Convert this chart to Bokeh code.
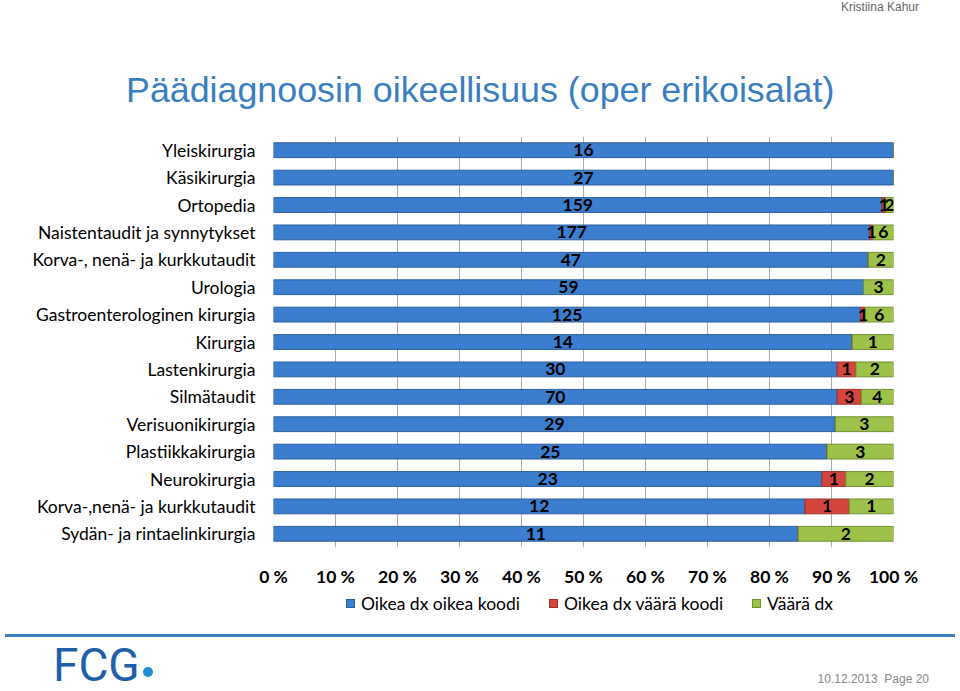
from bokeh.plotting import figure
from bokeh.layouts import column
from bokeh.models import (ColumnDataSource, FactorRange, Range1d, Div,
                          FixedTicker, CustomJSTickFormatter)
from bokeh.core.properties import value
from bokeh.embed import file_html
from bokeh.resources import INLINE

categories = ["Yleiskirurgia", "Käsikirurgia", "Ortopedia", "Naistentaudit ja synnytykset",
              "Korva-, nenä- ja kurkkutaudit", "Urologia", "Gastroenterologinen kirurgia",
              "Kirurgia", "Lastenkirurgia", "Silmätaudit", "Verisuonikirurgia",
              "Plastiikkakirurgia", "Neurokirurgia", "Korva-,nenä- ja kurkkutaudit",
              "Sydän- ja rintaelinkirurgia"]
oikea_oikea = [16, 27, 159, 177, 47, 59, 125, 14, 30, 70, 29, 25, 23, 12, 11]
oikea_vaara = [0, 0, 1, 1, 0, 0, 1, 0, 1, 3, 0, 0, 1, 1, 0]
vaara_dx = [0, 0, 2, 6, 2, 3, 6, 1, 2, 4, 3, 3, 2, 1, 2]
series_names = ["Oikea dx oikea koodi", "Oikea dx väärä koodi", "Väärä dx"]
x_ticks = [0, 10, 20, 30, 40, 50, 60, 70, 80, 90, 100]
title_text = "Päädiagnoosin oikeellisuus (oper erikoisalat)"

colors = ["#3B7DCE", "#D4463E", "#9CC24A"]
outlines = ["#2B5E9C", "#9E2E28", "#6F8F2E"]
FONT = "Lato"
FS = "17.5px"

W = 960
HEAD_H, FIG_H, FOOT_H = 128, 464, 99

# ---------- header (author + title) ----------
header_html = f"""
<div style="position:relative;width:{W}px;height:{HEAD_H}px;margin:0;padding:0;">
  <div style="position:absolute;right:41px;top:0px;font-family:'Liberation Sans';font-size:12px;line-height:14px;color:#666666;">Kristiina Kahur</div>
  <div style="position:absolute;left:126px;top:70px;font-family:'Liberation Sans';font-size:35.8px;line-height:40px;color:#3A7EC0;white-space:nowrap;">{title_text}</div>
</div>
"""
header = Div(text=header_html, width=W, height=HEAD_H, margin=0)

# ---------- chart ----------
p = figure(width=W, height=FIG_H, y_range=FactorRange(*list(reversed(categories))),
           x_range=Range1d(0, 100), output_backend="svg", toolbar_location=None,
           min_border_left=273, min_border_right=67, min_border_top=8,
           min_border_bottom=45)
p.outline_line_color = None

totals = [a + b + c for a, b, c in zip(oikea_oikea, oikea_vaara, vaara_dx)]
series = [oikea_oikea, oikea_vaara, vaara_dx]
left = [0.0] * len(categories)
label_x, label_y, label_t = [], [], []
for s, vals in enumerate(series):
    pct = [100.0 * v / t for v, t in zip(vals, totals)]
    right = [l + q for l, q in zip(left, pct)]
    src = ColumnDataSource(dict(y=categories, left=left, right=right))
    p.hbar(y="y", left="left", right="right", height=0.54, source=src,
           fill_color=colors[s], line_color=outlines[s], line_width=1)
    for c, l, rr, v in zip(categories, left, right, vals):
        if v > 0:
            label_x.append((l + rr) / 2)
            label_y.append(c)
            label_t.append(str(v))
    left = right

lsrc = ColumnDataSource(dict(x=label_x, y=label_y, t=label_t))
p.text(x="x", y="y", text="t", source=lsrc, text_align="center", text_baseline="middle",
       text_font=value(FONT), text_font_size=FS, text_font_style="bold", text_color="black")

p.xgrid.grid_line_color = "#ABABAB"
p.ygrid.grid_line_color = None
p.xaxis.ticker = FixedTicker(ticks=x_ticks)
p.xaxis.formatter = CustomJSTickFormatter(code="return tick + ' %';")
p.xaxis.axis_line_color = None
p.xaxis.major_tick_line_color = None
p.xaxis.minor_tick_line_color = None
p.xaxis.major_label_text_font = FONT
p.xaxis.major_label_text_font_size = FS
p.xaxis.major_label_text_font_style = "bold"
p.xaxis.major_label_text_color = "black"
p.xaxis.major_label_standoff = 12
p.yaxis.axis_line_color = None
p.yaxis.major_tick_line_color = None
p.yaxis.minor_tick_line_color = None
p.yaxis.major_label_text_font = FONT
p.yaxis.major_label_text_font_size = FS
p.yaxis.major_label_text_color = "black"
p.yaxis.major_label_standoff = 12

# ---------- footer (legend, rule, logo, page) ----------
legend_x = [346, 549, 752]
legend_html = ""
for name, col, oc, lx in zip(series_names, colors, outlines, legend_x):
    legend_html += (f'<div style="position:absolute;left:{lx}px;top:7px;width:9px;height:9px;'
                    f'background:{col};border:1px solid {oc};"></div>'
                    f'<div style="position:absolute;left:{lx + 15}px;top:2px;font-family:{FONT};'
                    f'font-size:{FS};line-height:20px;color:black;white-space:nowrap;">{name}</div>')

footer_html = f"""
<div style="position:relative;width:{W}px;height:{FOOT_H}px;margin:0;padding:0;">
  {legend_html}
  <div style="position:absolute;left:5px;top:42px;width:950px;height:3px;background:#3A7EC0;"></div>
  <div style="position:absolute;left:53px;top:50px;font-family:Roboto;font-size:46px;line-height:46px;color:#1F5EA8;">FCG</div>
  <div style="position:absolute;left:143px;top:75px;width:10px;height:10px;border-radius:5px;background:#1E8FD5;"></div>
  <div style="position:absolute;right:31px;top:80px;font-family:'Liberation Sans';font-size:12px;line-height:14px;color:#888888;white-space:pre;">10.12.2013  Page 20</div>
</div>
"""
footer = Div(text=footer_html, width=W, height=FOOT_H, margin=0)

layout = column(header, p, footer, spacing=0)
open("out.html", "w").write(file_html(layout, INLINE))
